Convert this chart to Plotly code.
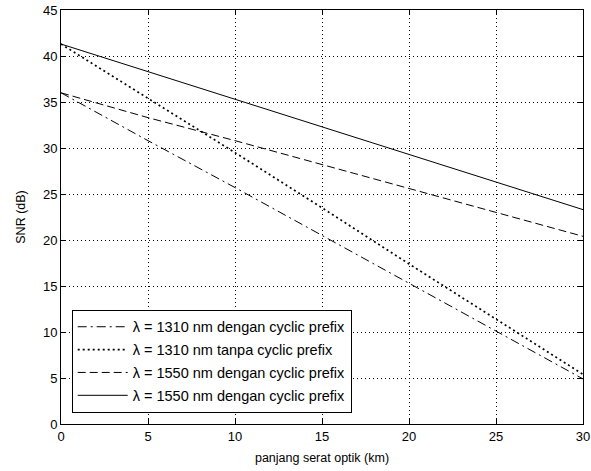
import plotly.graph_objects as go

jarak_km = [0, 5, 10, 15, 20, 25, 30]
snr_1310_cp = [36.0, 30.8, 25.7, 20.5, 15.3, 10.1, 4.9]
snr_1310_tanpa = [41.3, 35.4, 29.5, 23.5, 17.4, 11.4, 5.4]
snr_1550_cp_a = [36.0, 33.3, 30.8, 28.2, 25.6, 23.0, 20.4]
snr_1550_cp_b = [41.3, 38.3, 35.3, 32.3, 29.3, 26.3, 23.3]

nama = [
    "\u03bb = 1310 nm dengan cyclic prefix",
    "\u03bb = 1310 nm tanpa cyclic prefix",
    "\u03bb = 1550 nm dengan cyclic prefix",
    "\u03bb = 1550 nm dengan cyclic prefix",
]
gaya = ["9px,4px,2px,4px", "2px,3px", "8px,4px", "solid"]
lebar = [1, 1.7, 1, 1]
data = [snr_1310_cp, snr_1310_tanpa, snr_1550_cp_a, snr_1550_cp_b]

fig = go.Figure()
for i, (n, g, w, y) in enumerate(zip(nama, gaya, lebar, data)):
    fig.add_trace(go.Scatter(
        x=jarak_km, y=y, mode="lines", name=n,
        legendgroup=f"g{i}",
        line=dict(color="black", width=w, dash=g),
    ))

font = "Liberation Sans, Arial, sans-serif"
axis_common = dict(
    showline=True, linecolor="black", linewidth=1, mirror="ticks",
    ticks="inside", ticklen=5, tickcolor="black",
    showgrid=True, gridcolor="black", gridwidth=1, griddash="1px,3px",
    zeroline=False, automargin=False,
    tickfont=dict(family=font, size=13, color="black"),
)

fig.update_layout(
    width=591, height=471,
    margin=dict(l=61, r=8, t=10, b=47),
    paper_bgcolor="white", plot_bgcolor="white",
    font=dict(family=font, size=12, color="black"),
    xaxis=dict(range=[0, 30], dtick=5, tick0=0,
               title=dict(text="panjang serat optik (km)", standoff=10,
                          font=dict(family=font, size=12.5)),
               **axis_common),
    yaxis=dict(range=[0, 45], dtick=5, tick0=0,
               title=dict(text="SNR (dB)", standoff=14,
                          font=dict(family=font, size=12.5)),
               **axis_common),
    legend=dict(
        x=0.0205, y=0.027, xanchor="left", yanchor="bottom",
        bgcolor="white", bordercolor="black", borderwidth=1,
        font=dict(family=font, size=14.5, color="black"),
        traceorder="grouped", tracegroupgap=1,
        itemwidth=50,
    ),
    showlegend=True,
)

fig.write_html("out.html")
